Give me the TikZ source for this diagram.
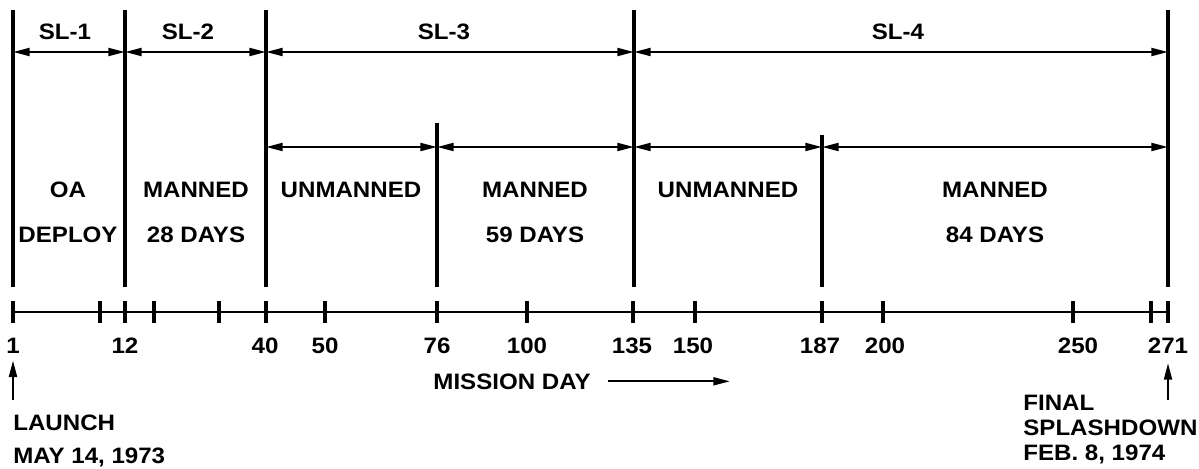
\documentclass[tikz,border=0pt]{standalone}
\usepackage{fontspec}
\setmainfont{Liberation Sans}[FakeStretch=1.08]
\usetikzlibrary{arrows.meta}
\tikzset{
  bar/.style={line width=2pt},
  span/.style={line width=1.3pt, {Triangle[length=9.5pt,width=4.5pt]}-{Triangle[length=9.5pt,width=4.5pt]}},
  pointer/.style={line width=1.3pt, -{Triangle[length=9.5pt,width=4.5pt]}},
  lbl/.style={font=\fontsize{12.7}{15}\selectfont\bfseries, inner sep=0pt, anchor=base},
  colbox/.style={font=\fontsize{12.7}{25.5}\selectfont\bfseries, inner sep=0pt, align=center, anchor=north},
}

\begin{document}
\begin{tikzpicture}[x=0.02cm, y=-0.02cm]
  \useasboundingbox (0,0) rectangle (1199,469);
  % day positions
  \foreach \d/\x in {1/13, 12/125, 40/266, 76/437, 135/634, 187/822, 271/1168}
    \coordinate (d\d) at (\x,0);
  % mission boundaries
  \foreach \d in {1,12,40,135,271}
    \draw[bar] (d\d |- 0,10) -- (d\d |- 0,287);
  \draw[bar] (d76 |- 0,123) -- (d76 |- 0,287);
  \draw[bar] (d187 |- 0,135) -- (d187 |- 0,287);
  % skylab missions
  \foreach \a/\b in {1/12, 12/40, 40/135, 135/271}
    \draw[span] (d\a |- 0,52) -- (d\b |- 0,52);
  \foreach \a/\b in {40/76, 76/135, 135/187, 187/271}
    \draw[span] (d\a |- 0,147) -- (d\b |- 0,147);
  \node[lbl] (sl1) at (65,40) {SL-1};
  \node[lbl] (sl2) at (188,40) {SL-2};
  \node[lbl] (sl3) at (444,40) {SL-3};
  \node[lbl] (sl4) at (898,40) {SL-4};
  % phases
  \node[colbox] (oa) at (68,182) {OA\\DEPLOY};
  \node[colbox] (man1) at (196,182) {MANNED\\28 DAYS};
  \node[colbox] (unm1) at (351,182) {UNMANNED};
  \node[colbox] (man2) at (535,182) {MANNED\\59 DAYS};
  \node[colbox] (unm2) at (728,182) {UNMANNED};
  \node[colbox] (man3) at (995,182) {MANNED\\84 DAYS};
  % day axis
  \draw[line width=1.3pt] (d1 |- 0,312) -- (d271 |- 0,312);
  \foreach \x in {13,100,125,154,219,266,325,437,527,633,695,822,883,1073,1151,1168}
    \draw[bar] (\x,301) -- (\x,323);
  \foreach \d/\x in {1/13, 12/125, 40/265, 50/325, 76/437, 100/527, 135/632, 150/693, 187/820, 200/885, 250/1078, 271/1168}
    \node[lbl] (n\d) at (\x,353) {\d};
  \node[lbl] (mday) at (512,389) {MISSION DAY};
  \coordinate (mdayend) at (730,382);
  \draw[pointer, shorten <=10pt] (mday.east) -- (mdayend |- mday.east);
  % launch and splashdown
  \draw[pointer, shorten >=4pt] (n1.south |- 0,400) -- (n1.south);
  \draw[pointer, shorten >=5.5pt] (n271.south |- 0,400) -- (n271.south);
  \node[lbl, anchor=base west] (launch) at (13,430) {LAUNCH};
  \node[lbl, anchor=base west] (launchdate) at (13,463) {MAY 14, 1973};
  \node[lbl, anchor=base west] (final) at (1023,410) {FINAL};
  \node[lbl, anchor=base west] (splash) at (1023,435) {SPLASHDOWN};
  \node[lbl, anchor=base west] (splashdate) at (1023,460) {FEB. 8, 1974};
\end{tikzpicture}
\end{document}
